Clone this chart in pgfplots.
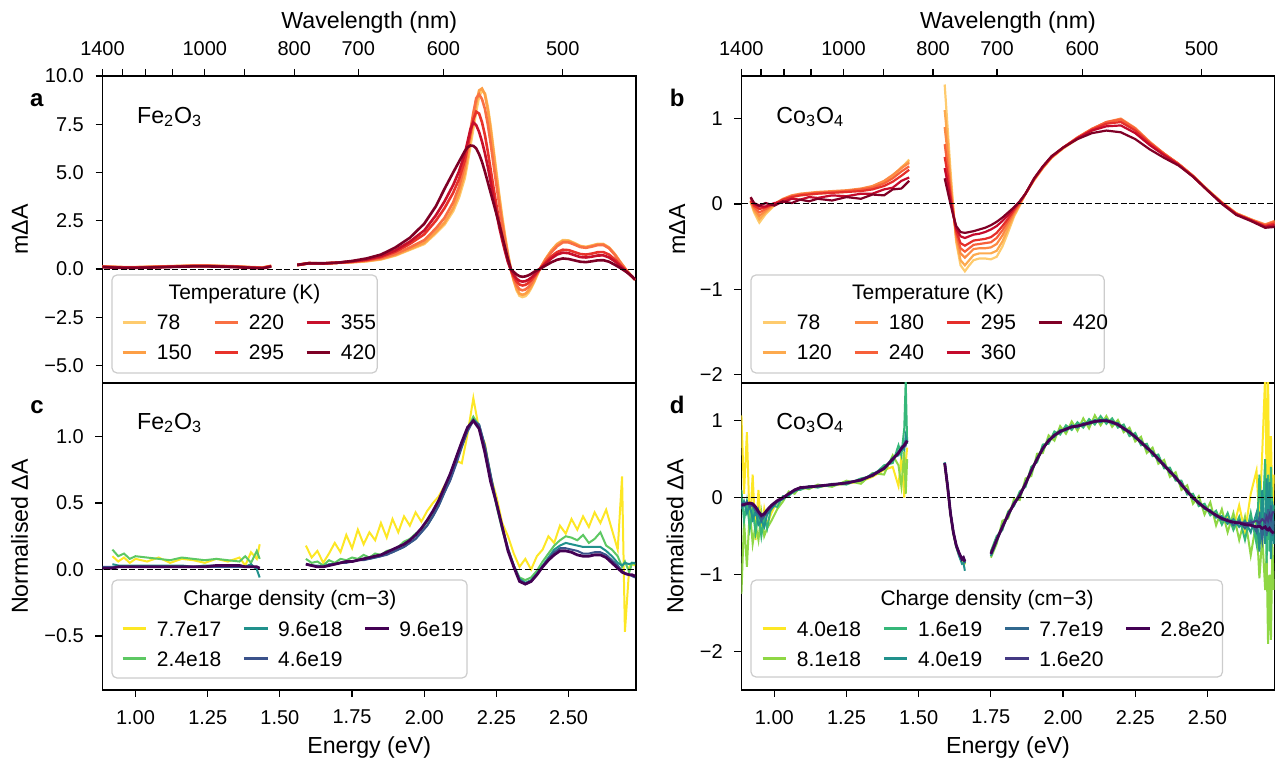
\documentclass[border=0pt]{standalone}
\usepackage{fontspec}
\setmainfont{Liberation Sans}
\usepackage{pgfplots}
\usepackage{pgfplotstable}
\pgfplotsset{compat=1.18}

% temperature series (Fe2O3 / Co3O4)
\definecolor{aA}{HTML}{FECB6E}
\definecolor{aB}{HTML}{FD9F46}
\definecolor{aC}{HTML}{F97043}
\definecolor{aD}{HTML}{E8322A}
\definecolor{aE}{HTML}{C8102B}
\definecolor{aF}{HTML}{7E0025}
\definecolor{bA}{HTML}{FECB6E}
\definecolor{bB}{HTML}{FDAA4E}
\definecolor{bC}{HTML}{FC8A44}
\definecolor{bD}{HTML}{F7603A}
\definecolor{bE}{HTML}{E52E2A}
\definecolor{bF}{HTML}{C40A2C}
\definecolor{bG}{HTML}{800026}
% charge density series (viridis)
\definecolor{cA}{HTML}{FDE725}
\definecolor{cB}{HTML}{5DC863}
\definecolor{cC}{HTML}{21918C}
\definecolor{cD}{HTML}{3B528B}
\definecolor{cE}{HTML}{440154}
\definecolor{dA}{HTML}{FDE725}
\definecolor{dB}{HTML}{8FD744}
\definecolor{dC}{HTML}{35B779}
\definecolor{dD}{HTML}{21918C}
\definecolor{dE}{HTML}{31688E}
\definecolor{dF}{HTML}{443983}
\definecolor{dG}{HTML}{440154}

\pgfplotstableread{
E t78 t150 t220 t295 t355 t420
0.886 .12 .14 .13 .12 .11 .10
0.92 .10 .12 .11 .10 .09 .08
0.96 .08 .10 .09 .08 .07 .06
1.00 .08 .10 .09 .08 .07 .06
1.05 .10 .12 .11 .10 .09 .08
1.10 .12 .14 .13 .12 .11 .10
1.15 .14 .16 .15 .14 .13 .12
1.20 .16 .18 .17 .16 .15 .14
1.25 .16 .18 .17 .16 .15 .14
1.30 .14 .16 .15 .14 .13 .12
1.35 .12 .14 .13 .12 .11 .10
1.40 .08 .10 .09 .08 .07 .06
1.44 .06 .08 .07 .06 .05 .04
1.47 .15 .17 .16 .15 .14 .13
1.52 nan nan nan nan nan nan
1.56 .20 .22 .21 .20 .21 .22
1.60 .30 .31 .30 .30 .30 .30
1.65 .28 .29 .29 .29 .29 .30
1.70 .32 .33 .33 .33 .33 .33
1.75 .35 .36 .37 .38 .40 .42
1.80 .40 .42 .44 .47 .50 .55
1.85 .50 .52 .56 .62 .67 .75
1.90 .70 .73 .79 .90 .97 1.12
1.95 1.00 1.04 1.12 1.30 1.42 1.62
2.00 1.30 1.36 1.50 1.80 2.00 2.35
2.04 1.85 1.92 2.10 2.50 2.78 3.25
2.07 2.30 2.40 2.65 3.15 3.50 4.15
2.10 3.00 3.15 3.45 3.95 4.35 5.00
2.12 3.70 3.90 4.25 4.65 5.05 5.55
2.14 4.70 4.95 5.35 5.60 5.95 6.10
2.15 5.50 5.80 6.25 6.30 6.60 6.30
2.16 6.40 6.75 7.20 7.05 7.25 6.40
2.17 7.30 7.70 8.10 7.75 7.60 6.38
2.18 8.20 8.60 8.85 8.15 7.45 6.25
2.19 8.95 9.25 9.05 8.05 7.10 5.95
2.20 9.25 9.35 8.80 7.60 6.60 5.55
2.21 9.10 9.05 8.30 6.95 6.00 5.05
2.22 8.40 8.25 7.50 6.10 5.30 4.50
2.23 7.40 7.20 6.50 5.15 4.50 3.95
2.24 6.20 6.00 5.40 4.20 3.70 3.40
2.25 5.00 4.80 4.35 3.30 2.90 2.85
2.26 3.80 3.65 3.30 2.45 2.15 2.30
2.27 2.70 2.55 2.35 1.70 1.50 1.70
2.28 1.70 1.58 1.45 1.00 .90 1.10
2.29 .80 .72 .65 .40 .35 .50
2.30 .00 -.04 -.03 -.05 -.03 .00
2.31 -.60 -.58 -.50 -.40 -.30 -.15
2.32 -1.10 -1.02 -.85 -.65 -.50 -.28
2.33 -1.38 -1.28 -1.05 -.80 -.61 -.37
2.34 -1.45 -1.33 -1.10 -.85 -.65 -.40
2.35 -1.40 -1.28 -1.06 -.82 -.63 -.38
2.36 -1.25 -1.14 -.95 -.73 -.56 -.33
2.37 -1.00 -.92 -.76 -.58 -.45 -.25
2.38 -.70 -.63 -.52 -.40 -.31 -.15
2.39 -.35 -.30 -.25 -.20 -.15 -.07
2.40 -.03 .00 .00 .00 .00 .00
2.42 .50 .52 .47 .35 .28 .18
2.44 .95 .95 .86 .65 .55 .35
2.46 1.30 1.28 1.18 .88 .75 .48
2.48 1.50 1.46 1.38 1.00 .85 .55
2.50 1.48 1.45 1.38 .98 .82 .52
2.52 1.35 1.32 1.27 .88 .72 .45
2.54 1.20 1.18 1.14 .78 .62 .38
2.56 1.15 1.13 1.10 .75 .60 .36
2.58 1.22 1.20 1.16 .80 .64 .40
2.60 1.30 1.28 1.24 .87 .70 .45
2.62 1.30 1.28 1.25 .88 .71 .46
2.64 1.12 1.10 1.08 .75 .60 .38
2.66 .78 .76 .74 .50 .40 .22
2.68 .35 .33 .32 .20 .14 .05
2.70 -.05 -.06 -.07 -.10 -.12 -.15
2.72 -.40 -.40 -.40 -.40 -.40 -.38
2.73 -.55 -.55 -.55 -.55 -.55 -.55
}\tabA

\pgfplotstableread{
E t78 t120 t180 t240 t295 t360 t420
0.918 .02 .03 .03 .04 .04 .07 .08
0.93 -.10 -.08 -.06 -.04 -.02 .00 .01
0.948 -.22 -.18 -.14 -.10 -.06 -.03 -.02
0.97 -.12 -.10 -.08 -.06 -.04 -.03 .01
1.00 -.02 -.01 .00 .00 .00 .01 -.02
1.03 .04 .05 .06 .05 .05 .02 .03
1.06 .08 .09 .10 .09 .08 .06 .01
1.09 .10 .11 .12 .11 .10 .05 .05
1.12 .11 .12 .13 .12 .11 .08 .03
1.15 .12 .13 .14 .13 .12 .07 .06
1.20 .13 .14 .15 .14 .13 .10 .04
1.25 .14 .15 .16 .15 .14 .09 .08
1.30 .16 .17 .18 .17 .15 .12 .06
1.34 .19 .20 .21 .19 .17 .12 .11
1.38 .25 .26 .27 .24 .21 .17 .10
1.41 .32 .33 .34 .30 .26 .19 .17
1.44 .42 .43 .42 .38 .33 .27 .18
1.467 .52 .50 .48 .44 .40 .31 .27
1.53 nan nan nan nan nan nan nan
1.59 1.40 1.10 .90 .70 .55 .42 .30
1.60 .90 .75 .60 .45 .35 .25 .15
1.61 .40 .30 .22 .15 .10 .05 .00
1.62 -.05 -.08 -.10 -.12 -.12 -.13 -.14
1.63 -.45 -.42 -.38 -.35 -.32 -.29 -.26
1.645 -.72 -.66 -.58 -.52 -.46 -.38 -.33
1.66 -.79 -.72 -.63 -.56 -.49 -.40 -.34
1.675 -.72 -.66 -.58 -.52 -.46 -.38 -.33
1.69 -.66 -.60 -.53 -.48 -.43 -.36 -.32
1.71 -.64 -.58 -.52 -.47 -.42 -.35 -.30
1.73 -.64 -.58 -.52 -.46 -.41 -.33 -.28
1.75 -.65 -.58 -.51 -.45 -.39 -.30 -.25
1.77 -.62 -.55 -.47 -.40 -.34 -.26 -.21
1.79 -.50 -.44 -.37 -.31 -.26 -.20 -.16
1.81 -.33 -.29 -.24 -.20 -.17 -.13 -.10
1.83 -.15 -.13 -.11 -.09 -.07 -.05 -.04
1.85 -.02 -.01 .00 .01 .02 .03 .03
1.87 .12 .12 .12 .12 .12 .12 .12
1.90 .28 .28 .29 .29 .29 .30 .30
1.93 .42 .42 .43 .43 .43 .44 .44
1.96 .54 .54 .55 .55 .55 .55 .56
2.00 .65 .65 .66 .66 .66 .66 .66
2.05 .76 .77 .78 .78 .77 .77 .76
2.10 .86 .87 .88 .88 .87 .86 .83
2.15 .94 .95 .96 .96 .94 .91 .86
2.20 .98 .99 1.00 .99 .96 .92 .84
2.25 .87 .88 .89 .88 .86 .83 .76
2.30 .71 .72 .73 .72 .71 .69 .64
2.35 .58 .59 .59 .59 .58 .57 .54
2.40 .47 .47 .47 .47 .46 .46 .45
2.45 .33 .33 .33 .33 .32 .32 .32
2.50 .17 .17 .16 .16 .16 .16 .16
2.55 .02 .02 .01 .01 .01 .01 .00
2.60 -.11 -.11 -.11 -.12 -.12 -.12 -.13
2.65 -.18 -.18 -.18 -.19 -.19 -.19 -.20
2.70 -.26 -.25 -.24 -.25 -.26 -.27 -.28
2.733 -.24 -.22 -.20 -.21 -.23 -.25 -.27
}\tabB

\pgfplotstableread{
E y g t b p
0.886 nan nan nan .02 .01
0.92 .10 .15 .04 .02 .01
0.94 .06 .10 .03 .02 .02
0.96 .09 .12 .03 .02 .02
0.98 .05 .08 .03 .02 .02
1.00 .08 .10 .03 .02 .02
1.04 .06 .09 .03 .02 .02
1.08 .09 .08 .03 .02 .02
1.12 .05 .07 .03 .02 .02
1.16 .08 .09 .03 .02 .02
1.20 .07 .08 .02 .02 .02
1.24 .05 .07 .03 .02 .02
1.28 .08 .08 .03 .02 .03
1.32 .06 .07 .02 .02 .03
1.36 .09 .06 .03 .02 .03
1.38 .03 .10 .02 .02 .02
1.40 .13 .05 .04 .02 .02
1.42 .08 .14 .00 .02 .02
1.43 .19 .08 -.06 .01 .01
1.50 nan nan nan nan nan
1.59 .18 .08 .04 .04 .04
1.61 .09 .05 .03 .03 .03
1.63 .14 .06 .03 .02 .02
1.65 .05 .03 .02 .02 .02
1.67 .12 .07 .04 .03 .03
1.69 .20 .05 .04 .04 .04
1.71 .13 .08 .05 .05 .05
1.73 .26 .07 .06 .05 .06
1.75 .16 .09 .06 .06 .06
1.77 .30 .08 .07 .07 .07
1.79 .19 .11 .08 .07 .08
1.81 .28 .09 .08 .08 .09
1.83 .22 .12 .09 .09 .10
1.85 .35 .11 .10 .10 .11
1.87 .24 .14 .12 .11 .13
1.89 .38 .15 .13 .13 .15
1.91 .28 .17 .15 .15 .17
1.93 .40 .21 .17 .17 .19
1.95 .33 .23 .20 .20 .22
1.97 .43 .27 .23 .23 .26
1.99 .36 .30 .28 .28 .31
2.01 .44 .36 .33 .33 .37
2.03 .50 .42 .40 .40 .44
2.05 .55 .50 .48 .48 .52
2.07 .63 .60 .58 .58 .62
2.09 .70 .70 .68 .67 .72
2.11 .82 .82 .80 .79 .84
2.13 .80 .95 .93 .92 .96
2.15 1.02 1.06 1.05 1.04 1.07
2.17 1.29 1.15 1.13 1.12 1.12
2.19 1.05 1.08 1.09 1.09 1.06
2.21 .95 .92 .93 .93 .88
2.23 .70 .70 .71 .71 .66
2.25 .55 .48 .49 .50 .50
2.27 .35 .30 .31 .32 .32
2.29 .25 .15 .15 .16 .14
2.31 .12 .03 .03 .03 .02
2.33 .02 -.06 -.07 -.08 -.09
2.35 .08 -.08 -.10 -.11 -.11
2.37 .00 -.06 -.08 -.09 -.09
2.39 .10 -.01 -.03 -.04 -.04
2.41 .15 .06 .03 .02 .02
2.43 .25 .12 .09 .08 .07
2.45 .20 .18 .15 .13 .11
2.47 .33 .22 .18 .16 .14
2.49 .27 .25 .20 .16 .14
2.51 .38 .24 .19 .15 .13
2.53 .30 .22 .18 .14 .11
2.55 .40 .26 .17 .12 .10
2.57 .32 .20 .17 .12 .10
2.59 .43 .23 .17 .13 .11
2.61 .35 .28 .17 .13 .11
2.63 .45 .18 .14 .11 .09
2.65 .30 .15 .10 .07 .05
2.67 .15 .10 .05 .03 .01
2.685 .70 .02 .03 -.01 -.02
2.695 -.47 .06 .05 -.03 -.03
2.71 .02 -.02 .04 -.04 -.04
2.72 .04 .05 .05 -.05 -.04
2.73 .03 .04 .05 -.06 -.05
}\tabC

\pgfplotstableread{
E Y YG G T B V P
0.886 1.07 -1.25 .10 -.15 -.06 -.09 -.10
0.895 .05 -.30 -.30 -.05 -.10 -.08 -.09
0.905 .85 -.90 -.05 -.20 -.05 -.08 -.08
0.915 -.40 -.15 -.40 -.10 -.12 -.08 -.07
0.925 .30 -.60 -.15 -.28 -.09 -.10 -.08
0.935 -.55 -.35 -.45 -.18 -.18 -.14 -.12
0.945 .10 -.55 -.20 -.35 -.22 -.20 -.18
0.955 -.45 -.20 -.50 -.30 -.30 -.25 -.23
0.965 -.15 -.50 -.25 -.38 -.24 -.23 -.21
0.975 -.35 -.40 -.40 -.22 -.20 -.17 -.16
0.99 -.20 -.30 -.10 -.15 -.12 -.11 -.10
1.01 -.05 -.15 -.12 -.05 -.06 -.05 -.04
1.03 -.02 -.05 .02 -.02 -.01 .00 .00
1.05 .06 .08 .02 .04 .04 .05 .05
1.07 .08 .05 .10 .08 .09 .10 .10
1.09 .11 .14 .10 .12 .12 .13 .13
1.12 .13 .11 .15 .13 .14 .14 .14
1.15 .14 .17 .13 .15 .15 .15 .15
1.20 .16 .14 .18 .16 .17 .17 .17
1.25 .18 .22 .17 .20 .19 .19 .19
1.30 .21 .18 .25 .22 .23 .23 .23
1.34 .27 .32 .28 .31 .30 .29 .29
1.38 .36 .30 .42 .37 .39 .38 .38
1.41 .40 .55 .45 .52 .49 .50 .50
1.43 .15 .42 .68 .55 .60 .58 .58
1.44 .55 .15 .55 .66 .62 .63 .64
1.45 .00 .60 .90 .62 .70 .67 .68
1.455 .45 .05 1.52 .80 .68 .70 .71
1.46 .65 .50 .70 .72 .75 .73 .74
1.52 nan nan nan nan nan nan nan
1.59 .42 .44 .45 .46 .45 .45 .45
1.60 .12 .14 .15 .16 .15 .15 .15
1.61 -.22 -.21 -.20 -.20 -.20 -.20 -.20
1.62 -.47 -.46 -.45 -.46 -.45 -.45 -.45
1.63 -.64 -.63 -.62 -.64 -.62 -.62 -.62
1.64 -.75 -.74 -.72 -.76 -.73 -.72 -.72
1.65 -.83 -.82 -.80 -.86 -.81 -.80 -.80
1.655 -.80 -.79 -.78 -.85 -.79 -.78 -.78
1.66 -.87 -.86 -.84 -.95 -.85 -.83 -.83
1.70 nan nan nan nan nan nan nan
1.75 -.70 -.78 -.70 -.76 -.74 -.73 -.73
1.77 -.52 -.60 -.50 -.57 -.54 -.55 -.55
1.79 -.40 -.30 -.42 -.36 -.39 -.38 -.38
1.81 -.18 -.27 -.18 -.24 -.21 -.22 -.22
1.83 -.10 -.02 -.11 -.06 -.09 -.08 -.08
1.85 .07 -.03 .08 .01 .04 .03 .03
1.87 .15 .25 .14 .20 .17 .18 .18
1.89 .39 .28 .40 .33 .36 .35 .35
1.91 .47 .57 .46 .52 .49 .50 .50
1.93 .68 .58 .69 .62 .65 .64 .64
1.95 .71 .81 .70 .76 .73 .74 .74
1.97 .85 .74 .86 .79 .82 .81 .81
1.99 .83 .93 .82 .88 .85 .86 .86
2.01 .93 .83 .94 .87 .90 .89 .89
2.03 .89 .99 .88 .94 .91 .92 .92
2.05 .97 .87 .98 .91 .94 .93 .93
2.07 .92 1.03 .91 .97 .94 .95 .95
2.09 1.01 .90 1.02 .95 .98 .97 .97
2.11 .96 1.07 .95 1.01 .98 .99 .99
2.13 1.04 .94 1.06 .98 1.01 1.00 1.00
2.15 .97 1.06 .96 1.02 .99 1.00 1.00
2.17 1.02 .92 1.03 .96 .99 .98 .98
2.19 .92 1.01 .91 .97 .94 .95 .95
2.21 .94 .85 .95 .88 .91 .90 .90
2.23 .81 .91 .80 .87 .84 .85 .85
2.25 .83 .73 .84 .77 .80 .79 .79
2.27 .69 .79 .68 .74 .71 .72 .72
2.29 .69 .58 .70 .63 .66 .65 .65
2.31 .55 .65 .54 .60 .57 .58 .58
2.33 .54 .44 .56 .48 .51 .50 .50
2.35 .39 .49 .38 .44 .41 .42 .42
2.37 .38 .27 .39 .32 .35 .34 .34
2.39 .23 .33 .22 .28 .25 .26 .26
2.41 .21 .10 .22 .15 .18 .17 .17
2.43 .05 .16 .04 .10 .07 .08 .08
2.45 .04 -.08 .05 -.02 .01 .00 .00
2.47 -.10 .02 -.11 -.05 -.08 -.07 -.07
2.49 -.09 -.22 -.08 -.15 -.12 -.13 -.13
2.51 -.22 -.06 -.23 -.16 -.19 -.18 -.18
2.53 -.18 -.36 -.17 -.26 -.22 -.23 -.23
2.55 -.33 -.15 -.35 -.24 -.29 -.27 -.27
2.57 -.24 -.45 -.20 -.34 -.28 -.30 -.30
2.59 -.40 -.20 -.42 -.28 -.36 -.32 -.32
2.61 -.10 -.55 -.25 -.38 -.30 -.32 -.33
2.63 -.45 -.25 -.55 -.30 -.40 -.33 -.35
2.65 .05 -.75 -.20 -.45 -.30 -.33 -.36
2.67 .35 -.30 -.60 -.20 -.45 -.30 -.38
2.68 -.30 -1.05 .30 -.70 -.25 -.33 -.37
2.69 .60 -.50 -.40 .10 -.55 -.28 -.40
2.70 1.60 -1.20 .50 -.60 -.20 -.32 -.38
2.705 .20 -.70 -.85 .25 -.50 -.25 -.41
2.71 1.60 -1.90 .30 -.40 -.15 -.30 -.42
2.715 -.40 -1.00 -.70 .20 -.45 -.22 -.40
2.72 .80 -1.85 .40 -.80 -.10 -.28 -.43
2.725 -.20 -.60 -.30 -.05 -.50 -.20 -.45
2.73 .30 -1.20 -.10 -.60 -.30 -.18 -.46
}\tabD

\tikzset{
  legbox/.style={draw=black!20, fill=white, fill opacity=0.8, rounded corners=2.5pt, line width=0.6pt},
}
\pgfplotsset{
  panel/.style={
    scale only axis, width=266.7pt, height=153.5pt,
    xmin=0.8856, xmax=2.733,
    axis line style={black, line width=0.6pt},
    tick style={black, line width=0.6pt},
    tick align=outside, major tick length=3.5pt, minor tick length=3.5pt,
    ytick pos=left,
    tick label style={font=\fontsize{10}{12}\selectfont},
    label style={font=\fontsize{11.6}{14}\selectfont},
    xticklabel shift=3pt, yticklabel shift=2.3pt,
    unbounded coords=jump,
    legend cell align=left, transpose legend, legend columns=2,
    legend image code/.code={\draw[##1, line width=1.5pt] (0pt,0pt) -- (11.8pt,0pt);},
    legend style={anchor=north west, draw=none, fill=none, inner sep=0pt,
      font=\fontsize{10.5}{12}\selectfont,
      nodes={inner sep=0pt, text height=8.5pt, text depth=1pt},
      row sep=5.5pt,
      /tikz/every odd column/.append style={column sep=4.6pt},
      /tikz/every even column/.append style={column sep=10.6pt}},
  },
  wavetop/.style={xtick pos=right, xticklabel pos=right,
    xtick={0.8856,1.2398,1.5498,1.7712,2.0664,2.4797},
    xticklabels={1400,1000,800,700,600,500},
    minor xtick={0.9537,1.0332,1.1271,1.3776},
    xlabel={Wavelength (nm)},
    xlabel style={at={(axis description cs:0.5,1.155)}, anchor=base}},
  energybot/.style={xtick pos=left,
    xtick={1,1.25,1.5,1.75,2,2.25,2.5},
    xticklabels={1.00,1.25,1.50,1.75,2.00,2.25,2.50},
    xlabel={Energy (eV)},
    xlabel style={at={(axis description cs:0.5,-0.207)}, anchor=base}},
  zeroline/.style={black, line width=0.5pt, dash pattern=on 3pt off 1.3pt, forget plot},
}

\begin{document}
\begin{tikzpicture}
\path[use as bounding box] (0,0) rectangle (638pt,381.5pt);

% a: Fe2O3, temperature
\begin{axis}[panel, wavetop, at={(51.25pt,190pt)}, anchor=south west,
  ymin=-5.9, ymax=10,
  ytick={-5,-2.5,0,2.5,5,7.5,10},
  yticklabels={−5.0,−2.5,0.0,2.5,5.0,7.5,10.0},
  ylabel={mΔA}, ylabel style={at={(axis description cs:-0.1398,0.5)}, anchor=base},
  legend style={at={(0.0341,0.2296)}}]
  \addplot[aA, line width=1.3pt] table[x=E, y=t78] {\tabA}; \addlegendentry{78}
  \addplot[aB, line width=1.3pt] table[x=E, y=t150] {\tabA}; \addlegendentry{150}
  \addplot[aC, line width=1.3pt] table[x=E, y=t220] {\tabA}; \addlegendentry{220}
  \addplot[aD, line width=1.3pt] table[x=E, y=t295] {\tabA}; \addlegendentry{295}
  \addplot[aE, line width=1.3pt] table[x=E, y=t355] {\tabA}; \addlegendentry{355}
  \addplot[aF, line width=1.3pt] table[x=E, y=t420] {\tabA}; \addlegendentry{420}
  \addplot[zeroline] coordinates {(0.8,0) (2.8,0)};
  \draw[legbox] (rel axis cs:0.0178,0.0326) rectangle (rel axis cs:0.515,0.3518);
  \node[anchor=base, font=\fontsize{10.5}{12}\selectfont] at (rel axis cs:0.2664,0.2726) {Temperature (K)};
  \node[anchor=base west, font=\fontsize{11.6}{14}\selectfont] at (rel axis cs:0.0516,0.846) {Fe\textsubscript{2}O\textsubscript{3}};
\end{axis}

% b: Co3O4, temperature
\begin{axis}[panel, wavetop, at={(370.65pt,190pt)}, anchor=south west,
  ymin=-2.1, ymax=1.5,
  ytick={-2,-1,0,1}, yticklabels={−2,−1,0,1},
  ylabel={mΔA}, ylabel style={at={(axis description cs:-0.1054,0.5)}, anchor=base},
  legend style={at={(0.0363,0.2296)}}]
  \addplot[bA, line width=1.1pt] table[x=E, y=t78] {\tabB}; \addlegendentry{78}
  \addplot[bB, line width=1.1pt] table[x=E, y=t120] {\tabB}; \addlegendentry{120}
  \addplot[bC, line width=1.1pt] table[x=E, y=t180] {\tabB}; \addlegendentry{180}
  \addplot[bD, line width=1.1pt] table[x=E, y=t240] {\tabB}; \addlegendentry{240}
  \addplot[bE, line width=1.1pt] table[x=E, y=t295] {\tabB}; \addlegendentry{295}
  \addplot[bF, line width=1.1pt] table[x=E, y=t360] {\tabB}; \addlegendentry{360}
  \addplot[bG, line width=1.1pt] table[x=E, y=t420] {\tabB}; \addlegendentry{420}
  \addplot[zeroline] coordinates {(0.8,0) (2.8,0)};
  \draw[legbox] (rel axis cs:0.0182,0.0326) rectangle (rel axis cs:0.6803,0.3518);
  \node[anchor=base, font=\fontsize{10.5}{12}\selectfont] at (rel axis cs:0.350,0.2726) {Temperature (K)};
  \node[anchor=base west, font=\fontsize{11.6}{14}\selectfont] at (rel axis cs:0.0526,0.846) {Co\textsubscript{3}O\textsubscript{4}};
\end{axis}

% c: Fe2O3, charge density
\begin{axis}[panel, energybot, at={(51.25pt,36.5pt)}, anchor=south west,
  ymin=-0.907, ymax=1.404,
  ytick={-0.5,0,0.5,1}, yticklabels={−0.5,0.0,0.5,1.0},
  ylabel={Normalised ΔA}, ylabel style={at={(axis description cs:-0.1398,0.5)}, anchor=base},
  legend style={at={(0.0343,0.2319)}}]
  \addplot[cA, line width=1pt] table[x=E, y=y] {\tabC}; \addlegendentry{7.7e17}
  \addplot[cB, line width=1pt] table[x=E, y=g] {\tabC}; \addlegendentry{2.4e18}
  \addplot[cC, line width=1pt] table[x=E, y=t] {\tabC}; \addlegendentry{9.6e18}
  \addplot[cD, line width=1pt] table[x=E, y=b] {\tabC}; \addlegendentry{4.6e19}
  \addplot[cE, line width=1.4pt] table[x=E, y=p] {\tabC}; \addlegendentry{9.6e19}
  \addplot[zeroline] coordinates {(0.8,0) (2.8,0)};
  \draw[legbox] (rel axis cs:0.0178,0.039) rectangle (rel axis cs:0.6835,0.358);
  \node[anchor=base, font=\fontsize{10.5}{12}\selectfont] at (rel axis cs:0.3514,0.2736) {Charge density (cm−3)};
  \node[anchor=base west, font=\fontsize{11.6}{14}\selectfont] at (rel axis cs:0.0516,0.850) {Fe\textsubscript{2}O\textsubscript{3}};
\end{axis}

% d: Co3O4, charge density
\begin{axis}[panel, energybot, at={(370.65pt,36.5pt)}, anchor=south west,
  ymin=-2.5, ymax=1.49,
  ytick={-2,-1,0,1}, yticklabels={−2,−1,0,1},
  ylabel={Normalised ΔA}, ylabel style={at={(axis description cs:-0.1086,0.5)}, anchor=base},
  legend style={at={(0.0363,0.2319)}}]
  \addplot[dA, line width=1pt] table[x=E, y=Y] {\tabD}; \addlegendentry{4.0e18}
  \addplot[dB, line width=1pt] table[x=E, y=YG] {\tabD}; \addlegendentry{8.1e18}
  \addplot[dC, line width=1pt] table[x=E, y=G] {\tabD}; \addlegendentry{1.6e19}
  \addplot[dD, line width=1pt] table[x=E, y=T] {\tabD}; \addlegendentry{4.0e19}
  \addplot[dE, line width=1pt] table[x=E, y=B] {\tabD}; \addlegendentry{7.7e19}
  \addplot[dF, line width=1pt] table[x=E, y=V] {\tabD}; \addlegendentry{1.6e20}
  \addplot[dG, line width=1.4pt] table[x=E, y=P] {\tabD}; \addlegendentry{2.8e20}
  \addplot[zeroline] coordinates {(0.8,0) (2.8,0)};
  \draw[legbox] (rel axis cs:0.0182,0.0423) rectangle (rel axis cs:0.9021,0.358);
  \node[anchor=base, font=\fontsize{10.5}{12}\selectfont] at (rel axis cs:0.4607,0.2736) {Charge density (cm−3)};
  \node[anchor=base west, font=\fontsize{11.6}{14}\selectfont] at (rel axis cs:0.0526,0.850) {Co\textsubscript{3}O\textsubscript{4}};
\end{axis}

% panel letters
\node[anchor=base west, font=\fontsize{12}{14}\selectfont\bfseries] at (11.5pt,328pt) {a};
\node[anchor=base west, font=\fontsize{12}{14}\selectfont\bfseries] at (331.35pt,328pt) {b};
\node[anchor=base west, font=\fontsize{12}{14}\selectfont\bfseries] at (11.65pt,174.85pt) {c};
\node[anchor=base west, font=\fontsize{12}{14}\selectfont\bfseries] at (331.35pt,174.85pt) {d};
\end{tikzpicture}
\end{document}
